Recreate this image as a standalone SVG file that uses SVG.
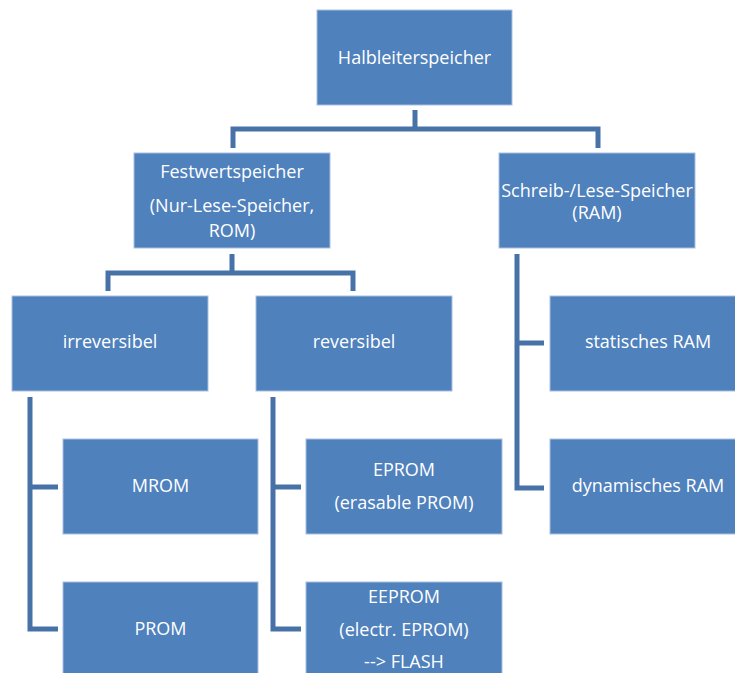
<svg xmlns="http://www.w3.org/2000/svg" width="735" height="673" viewBox="0 0 735 673">
<style>
.box{fill:#4F81BD;stroke:#a9bfdf;stroke-width:1}
.t{font-family:"Open Sans","Noto Sans","Liberation Sans",sans-serif;font-size:18px;fill:#ffffff;text-anchor:middle}
.c{fill:none;stroke:#4672A8;stroke-width:5;stroke-linejoin:miter;stroke-linecap:butt}
</style>
<rect width="735" height="673" fill="#ffffff"/>
<g id="connectors">
<path class="c" d="M415 110V129M233 148V129H598V148"/>
<path class="c" d="M232 254V273M108 291V273H353V291"/>
<path class="c" d="M517 254V488H544M517 343H544"/>
<path class="c" d="M30 397V629H58M30 487H58"/>
<path class="c" d="M273 397V629H301M273 487H301"/>
</g>
<g id="halbleiterspeicher"><rect class="box" x="317" y="10" width="195" height="95"/><text class="t" x="414.5" y="64">Halbleiterspeicher</text></g>
<g id="festwertspeicher"><rect class="box" x="134" y="153" width="196" height="95"/><text class="t" x="232" y="178">Festwertspeicher</text><text class="t" x="232" y="212">(Nur-Lese-Speicher,</text><text class="t" x="232" y="237">ROM)</text></g>
<g id="ram"><rect class="box" x="499" y="153" width="196" height="95"/><text class="t" x="597" y="197">Schreib-/Lese-Speicher</text><text class="t" x="597" y="219">(RAM)</text></g>
<g id="irreversibel"><rect class="box" x="12" y="296" width="196" height="95"/><text class="t" x="110" y="348">irreversibel</text></g>
<g id="reversibel"><rect class="box" x="256" y="296" width="196" height="95"/><text class="t" x="354" y="348">reversibel</text></g>
<g id="sram"><rect class="box" x="550" y="296" width="196" height="95"/><text class="t" x="648" y="348">statisches RAM</text></g>
<g id="dram"><rect class="box" x="550" y="439" width="196" height="95"/><text class="t" x="648" y="492">dynamisches RAM</text></g>
<g id="mrom"><rect class="box" x="63" y="439" width="195" height="95"/><text class="t" x="160.5" y="492">MROM</text></g>
<g id="prom"><rect class="box" x="63" y="582" width="195" height="95"/><text class="t" x="160.5" y="635">PROM</text></g>
<g id="eprom"><rect class="box" x="306" y="439" width="196" height="95"/><text class="t" x="404" y="476">EPROM</text><text class="t" x="404" y="509">(erasable PROM)</text></g>
<g id="eeprom"><rect class="box" x="306" y="582" width="196" height="95"/><text class="t" x="404" y="603">EEPROM</text><text class="t" x="404" y="636">(electr. EPROM)</text><text class="t" x="404" y="668">--&gt; FLASH</text></g>
</svg>
